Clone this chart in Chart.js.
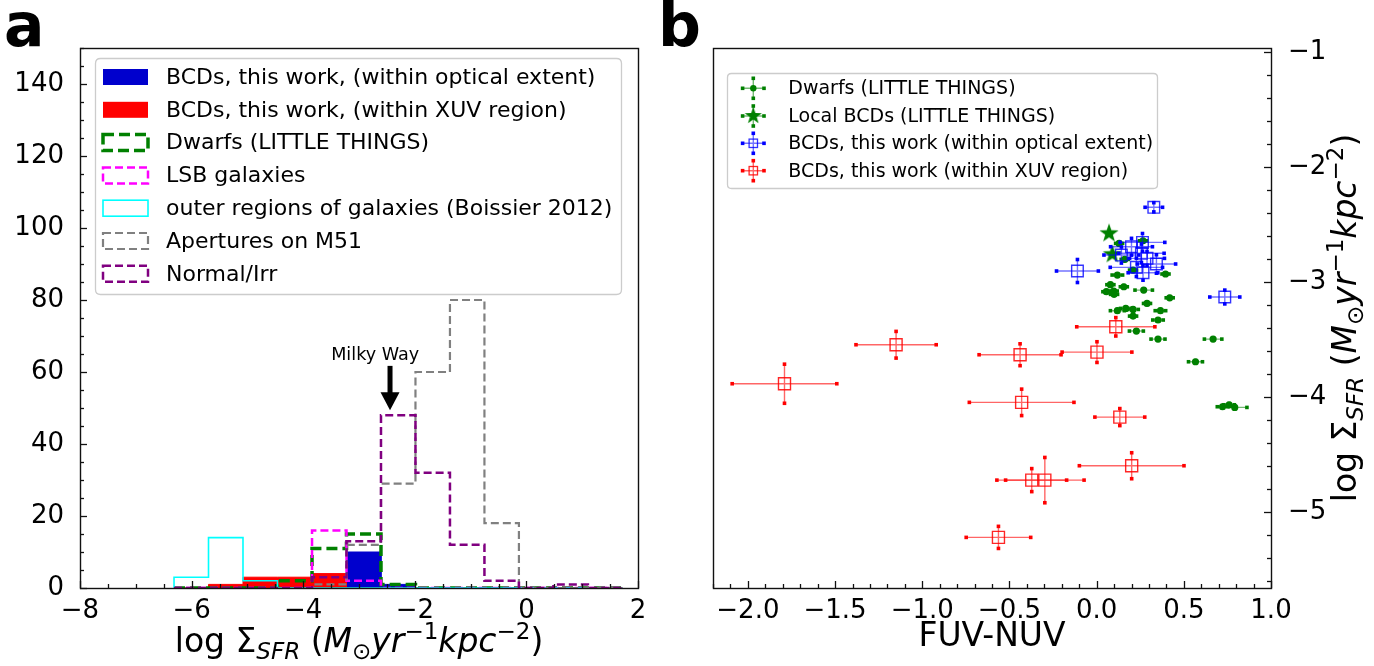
<!DOCTYPE html>
<html><head><meta charset="utf-8">
<script src="https://cdn.jsdelivr.net/npm/chart.js@4.4.1/dist/chart.umd.min.js"></script>
<style>
html,body{margin:0;padding:0;background:#fff;}
#wrap{position:relative;width:1374px;height:666px;overflow:hidden;background:#fff;}
.pane{position:absolute;top:0;height:666px;}
canvas{display:block;}
</style></head>
<body><div id="wrap">
<div class="pane" style="left:0;width:687px"><canvas id="ca" width="687" height="666"></canvas></div>
<div class="pane" style="left:640px;width:734px"><canvas id="cb" width="734" height="666"></canvas></div>
</div>
<script>
// ---------------- Panel a: histogram data ----------------
const BIN_EDGES = [-6.315, -5.697, -5.079, -4.461, -3.842, -3.224, -2.606, -1.988, -1.370, -0.752, -0.134, 0.484, 1.102, 1.720];
const HIST_BCD_OPTICAL = [0, 0, 0, 0, 0, 10, 1, 0, 0, 0, 0, 0, 0];
const HIST_BCD_XUV     = [0, 1, 3, 3, 4, 0, 0, 0, 0, 0, 0, 0, 0];
const HIST_DWARFS      = [0, 0, 0, 2, 11, 15, 1, 0, 0, 0, 0, 0, 0];
const HIST_LSB         = [0, 0, 0, 0, 16, 2, 0, 0, 0, 0, 0, 0, 0];
const HIST_OUTER       = [3, 14, 2, 0, 0, 0, 0, 0, 0, 0, 0, 0, 0];
const HIST_M51         = [0, 0, 0, 0, 1, 12, 29, 60, 80, 18, 0, 0, 0];
const HIST_NORMAL      = [0, 0, 0, 0, 3, 13, 48, 32, 12, 2, 0, 1, 0];
const A_X_TICKS = [-8, -6, -4, -2, 0, 2];
const A_Y_TICKS = [0, 20, 40, 60, 80, 100, 120, 140];
const A_LABELS = ['BCDs, this work, (within optical extent)', 'BCDs, this work, (within XUV region)',
  'Dwarfs (LITTLE THINGS)', 'LSB galaxies', 'outer regions of galaxies (Boissier 2012)', 'Apertures on M51', 'Normal/Irr'];
const MW_TEXT = 'Milky Way';
const MW_POS = {tx: -2.71, ty: 64.7, ax: -2.444, tail: 61.7, tip: 49.4};

// ---------------- Panel b: scatter data ----------------
const DWARF_COLOR = [0.129, 0.266, 0.161, 0.209, 0.395, 0.119, 0.079, 0.156, 0.056, 0.098, 0.100, 0.270, 0.419, 0.289, 0.119, 0.167, 0.209, 0.366, 0.209, 0.352, 0.228, 0.352, 0.668, 0.567, 0.722, 0.760, 0.792];
const DWARF_SFR   = [-2.664, -2.641, -2.803, -2.896, -2.930, -2.939, -3.023, -3.041, -3.084, -3.078, -3.107, -3.070, -3.137, -3.186, -3.249, -3.229, -3.238, -3.249, -3.296, -3.330, -3.426, -3.496, -3.496, -3.693, -4.084, -4.067, -4.090];
const DWARF_XERR  = [0.02, 0.02, 0.02, 0.02, 0.02, 0.03, 0.02, 0.02, 0.02, 0.02, 0.02, 0.05, 0.02, 0.02, 0.04, 0.03, 0.03, 0.03, 0.02, 0.03, 0.04, 0.04, 0.05, 0.04, 0.03, 0.03, 0.07];
const DWARF_YERR  = [0.01, 0.01, 0.01, 0.01, 0.01, 0.01, 0.01, 0.01, 0.01, 0.01, 0.01, 0.01, 0.01, 0.01, 0.01, 0.01, 0.01, 0.01, 0.01, 0.01, 0.01, 0.01, 0.01, 0.01, 0.01, 0.01, 0.01];
const LBCD_COLOR = [0.071, 0.090];
const LBCD_SFR   = [-2.577, -2.759];
const LBCD_XERR  = [0.0, 0.0];
const LBCD_YERR  = [0.0, 0.0];
const OPT_COLOR = [0.328, -0.110, 0.735, 0.200, 0.263, 0.142, 0.257, 0.343, 0.228, 0.266, 0.289];
const OPT_SFR   = [-2.350, -2.904, -3.130, -2.693, -2.655, -2.765, -2.750, -2.843, -2.872, -2.919, -2.794];
const OPT_XERR  = [0.050, 0.120, 0.086, 0.120, 0.128, 0.100, 0.130, 0.110, 0.150, 0.085, 0.100];
const OPT_YERR  = [0.040, 0.100, 0.060, 0.073, 0.077, 0.070, 0.080, 0.080, 0.080, 0.065, 0.060];
const XUV_COLOR = [-1.790, -1.150, -0.439, 0.002, 0.110, -0.430, 0.133, 0.201, -0.372, -0.297, -0.563];
const XUV_SFR   = [-3.884, -3.545, -3.632, -3.609, -3.389, -4.046, -4.174, -4.597, -4.722, -4.722, -5.220];
const XUV_XERR  = [0.300, 0.230, 0.235, 0.200, 0.224, 0.300, 0.143, 0.300, 0.200, 0.225, 0.185];
const XUV_YERR  = [0.170, 0.116, 0.095, 0.090, 0.080, 0.115, 0.074, 0.113, 0.100, 0.197, 0.096];
const B_X_TICKS = [-2.0, -1.5, -1.0, -0.5, 0.0, 0.5, 1.0];
const B_Y_TICKS = [-1, -2, -3, -4, -5];
const B_LABELS = ['Dwarfs (LITTLE THINGS)', 'Local BCDs (LITTLE THINGS)', 'BCDs, this work (within optical extent)', 'BCDs, this work (within XUV region)'];
const B_XTITLE = 'FUV-NUV';
const SFR_TITLE = [
  {t: 'log \u03A3', s: 33, it: false, dy: 0},
  {t: 'SFR', s: 23, it: true, dy: 7},
  {t: ' (', s: 33, it: false, dy: 0},
  {t: 'M', s: 33, it: true, dy: 0},
  {t: '\u2299', s: 23, it: false, dy: 7},
  {t: 'yr', s: 33, it: true, dy: 0},
  {t: '\u22121', s: 23, it: false, dy: -13},
  {t: 'kpc', s: 33, it: true, dy: 0},
  {t: '\u22122', s: 23, it: false, dy: -13},
  {t: ')', s: 33, it: false, dy: 0}
];

// ---------------- helpers ----------------
const FAM = '"DejaVu Sans", sans-serif';
Chart.defaults.font.family = FAM;
Chart.defaults.color = '#000';
const minus = s => s.replace('-', '\u2212');
const fmtInt = v => minus(String(Math.round(v)));
const fmt1 = v => { if (Math.abs(v) < 1e-9) v = 0; return minus(v.toFixed(1)); };
const zip = (xs, ys) => xs.map((x, i) => ({x, y: ys[i]}));

function stepPoints(edges, counts) {
  const pts = [{x: edges[0], y: 0}];
  counts.forEach((c, i) => { pts.push({x: edges[i], y: c}); pts.push({x: edges[i + 1], y: c}); });
  pts.push({x: edges[edges.length - 1], y: 0});
  return pts;
}
function roundRect(ctx, x, y, w, h, r) {
  ctx.beginPath();
  ctx.moveTo(x + r, y); ctx.lineTo(x + w - r, y); ctx.quadraticCurveTo(x + w, y, x + w, y + r);
  ctx.lineTo(x + w, y + h - r); ctx.quadraticCurveTo(x + w, y + h, x + w - r, y + h);
  ctx.lineTo(x + r, y + h); ctx.quadraticCurveTo(x, y + h, x, y + h - r);
  ctx.lineTo(x, y + r); ctx.quadraticCurveTo(x, y, x + r, y); ctx.closePath();
}
function drawRich(ctx, segs, x, y, rotate) {
  ctx.save();
  ctx.translate(x, y);
  if (rotate) ctx.rotate(-Math.PI / 2);
  const f = s => (s.it ? 'italic ' : '') + s.s + 'px ' + FAM;
  let total = 0;
  segs.forEach(s => { ctx.font = f(s); total += ctx.measureText(s.t).width; });
  let cx = -total / 2;
  ctx.fillStyle = '#000'; ctx.textAlign = 'left'; ctx.textBaseline = 'alphabetic';
  segs.forEach(s => { ctx.font = f(s); ctx.fillText(s.t, cx, s.dy); cx += ctx.measureText(s.t).width; });
  ctx.restore();
}
function drawFrame(ctx, a) {
  ctx.save(); ctx.strokeStyle = '#111'; ctx.lineWidth = 1.4;
  ctx.strokeRect(Math.round(a.left) + 0.5, Math.round(a.top) + 0.5, Math.round(a.right - a.left), Math.round(a.bottom - a.top));
  ctx.restore();
}
function minorValues(min, max, step, majors) {
  const out = [];
  const start = Math.ceil(min / step - 1e-9);
  for (let k = start; k * step <= max + 1e-9; k++) {
    const v = k * step;
    if (!majors.some(m => Math.abs(m - v) < 1e-9)) out.push(v);
  }
  return out;
}
function drawTicksX(ctx, sc, a, majors, minorStep) {
  ctx.save(); ctx.strokeStyle = '#111'; ctx.lineWidth = 1.3;
  const draw = (v, len) => { const p = Math.round(sc.getPixelForValue(v)) + 0.5; ctx.beginPath(); ctx.moveTo(p, a.bottom); ctx.lineTo(p, a.bottom - len); ctx.stroke(); };
  majors.forEach(v => draw(v, 7));
  minorValues(sc.min, sc.max, minorStep, majors).forEach(v => draw(v, 4));
  ctx.restore();
}
function drawTicksY(ctx, sc, a, majors, minorStep, side) {
  ctx.save(); ctx.strokeStyle = '#111'; ctx.lineWidth = 1.3;
  const x0 = side === 'left' ? a.left : a.right, dir = side === 'left' ? 1 : -1;
  const draw = (v, len) => { const p = Math.round(sc.getPixelForValue(v)) + 0.5; ctx.beginPath(); ctx.moveTo(x0, p); ctx.lineTo(x0 + dir * len, p); ctx.stroke(); };
  majors.forEach(v => draw(v, 7));
  minorValues(sc.min, sc.max, minorStep, majors).forEach(v => draw(v, 4));
  ctx.restore();
}
function panelLabel(ctx, t, x) {
  ctx.save(); ctx.font = 'bold 60px ' + FAM; ctx.fillStyle = '#000'; ctx.textBaseline = 'alphabetic'; ctx.textAlign = 'left';
  ctx.fillText(t, x, 46); ctx.restore();
}
function makeStar(R, color) {
  const c = document.createElement('canvas'); const s = Math.ceil(2 * R + 2); c.width = c.height = s;
  const g = c.getContext('2d'); g.fillStyle = color; g.beginPath();
  for (let k = 0; k < 10; k++) {
    const r = k % 2 ? R * 0.4 : R; const ang = -Math.PI / 2 + k * Math.PI / 5;
    const px = s / 2 + r * Math.cos(ang), py = s / 2 + r * Math.sin(ang);
    if (k) g.lineTo(px, py); else g.moveTo(px, py);
  }
  g.closePath(); g.fill(); return c;
}
const STAR_BIG = makeStar(10, '#008000');
const STAR_LEG = makeStar(9, '#008000');

// ---------------- Panel a ----------------
const decorA = {
  id: 'decorA',
  afterDraw(chart) {
    const {ctx, chartArea: a} = chart; const X = chart.scales.x, Y = chart.scales.y;
    drawFrame(ctx, a);
    drawTicksX(ctx, X, a, A_X_TICKS, 0.5);
    drawTicksY(ctx, Y, a, A_Y_TICKS, 5, 'left');
    // Milky Way annotation
    ctx.save();
    ctx.font = '17.6px ' + FAM; ctx.fillStyle = '#000'; ctx.textAlign = 'center'; ctx.textBaseline = 'middle';
    ctx.fillText(MW_TEXT, X.getPixelForValue(MW_POS.tx), Y.getPixelForValue(MW_POS.ty));
    const ax = X.getPixelForValue(MW_POS.ax), t0 = Y.getPixelForValue(MW_POS.tail), t1 = Y.getPixelForValue(MW_POS.tip);
    const hb = t1 - 18;
    ctx.fillRect(ax - 2.5, t0, 5, hb - t0 + 1);
    ctx.beginPath(); ctx.moveTo(ax - 9.5, hb); ctx.lineTo(ax + 9.5, hb); ctx.lineTo(ax, t1); ctx.closePath(); ctx.fill();
    ctx.restore();
    // legend
    ctx.save();
    roundRect(ctx, 95.5, 58.5, 526, 236, 5);
    ctx.fillStyle = 'rgba(255,255,255,0.8)'; ctx.fill();
    ctx.strokeStyle = '#cccccc'; ctx.lineWidth = 1.3; ctx.stroke();
    chart.data.datasets.forEach((ds, i) => {
      const yy = 77 + 32.8 * i;
      if (ds.fill) { ctx.fillStyle = ds.backgroundColor; ctx.fillRect(103, yy - 8, 45, 16); }
      else {
        ctx.strokeStyle = ds.borderColor; ctx.lineWidth = ds.borderWidth; ctx.setLineDash(ds.borderDash || []);
        ctx.strokeRect(103, yy - 8, 45, 16); ctx.setLineDash([]);
      }
      ctx.fillStyle = '#000'; ctx.font = '22px ' + FAM; ctx.textBaseline = 'middle'; ctx.textAlign = 'left';
      ctx.fillText(ds.label, 166, yy + 1);
    });
    ctx.restore();
    drawRich(ctx, SFR_TITLE, (a.left + a.right) / 2, 652, false);
    panelLabel(ctx, 'a', 4);
  }
};

const histLine = (label, counts, color, width, dash, order) => ({
  label, data: stepPoints(BIN_EDGES, counts), borderColor: color, borderWidth: width, borderDash: dash,
  fill: false, order, pointRadius: 0
});
const histFill = (label, counts, color, order) => ({
  label, data: stepPoints(BIN_EDGES, counts), borderColor: color, backgroundColor: color, borderWidth: 1,
  fill: 'origin', order, pointRadius: 0
});

new Chart(document.getElementById('ca'), {
  type: 'line',
  data: {datasets: [
    histFill(A_LABELS[0], HIST_BCD_OPTICAL, '#0000cd', 7),
    histFill(A_LABELS[1], HIST_BCD_XUV, '#ff0000', 6),
    histLine(A_LABELS[2], HIST_DWARFS, '#008000', 3.5, [11, 5], 5),
    histLine(A_LABELS[3], HIST_LSB, '#ff00ff', 2.5, [8, 4], 4),
    histLine(A_LABELS[4], HIST_OUTER, '#00ffff', 1.6, [], 3),
    histLine(A_LABELS[5], HIST_M51, '#808080', 2.2, [8, 4], 2),
    histLine(A_LABELS[6], HIST_NORMAL, '#800080', 2.5, [8, 4], 1)
  ]},
  options: {
    responsive: false, animation: false,
    layout: {padding: {top: 48, right: 687 - 638, left: 0, bottom: 0}},
    plugins: {legend: {display: false}, tooltip: {enabled: false}},
    elements: {point: {radius: 0}, line: {tension: 0, borderCapStyle: 'butt', borderJoinStyle: 'miter'}},
    scales: {
      x: {type: 'linear', min: -8, max: 2,
        afterBuildTicks: s => { s.ticks = A_X_TICKS.map(v => ({value: v})); },
        afterFit: s => { s.height = 78; },
        grid: {display: false}, border: {display: false},
        ticks: {font: {size: 26, lineHeight: 1}, padding: 2, maxRotation: 0, autoSkip: false, callback: v => fmtInt(v)}},
      y: {type: 'linear', min: 0, max: 150,
        afterBuildTicks: s => { s.ticks = A_Y_TICKS.map(v => ({value: v})); },
        afterFit: s => { s.width = 80; },
        grid: {display: false}, border: {display: false},
        ticks: {font: {size: 26, lineHeight: 1}, padding: 8, autoSkip: false, callback: v => fmtInt(v)}}
    }
  },
  plugins: [decorA]
});

// ---------------- Panel b ----------------
const OFF_B = 640; // page x of canvas b
const errBars = {
  id: 'errBars',
  beforeDatasetDraw(chart, args) {
    const ds = chart.data.datasets[args.index];
    if (!ds.errX) return;
    const ctx = chart.ctx, X = chart.scales.x, Y = chart.scales.y;
    ctx.save();
    ctx.lineWidth = 1.4;
    ds.data.forEach((p, i) => {
      const px = X.getPixelForValue(p.x), py = Y.getPixelForValue(p.y);
      const x0 = X.getPixelForValue(p.x - ds.errX[i]), x1 = X.getPixelForValue(p.x + ds.errX[i]);
      const y0 = Y.getPixelForValue(p.y - ds.errY[i]), y1 = Y.getPixelForValue(p.y + ds.errY[i]);
      ctx.strokeStyle = ds.errLine;
      ctx.beginPath(); ctx.moveTo(x0, py); ctx.lineTo(x1, py); ctx.moveTo(px, y0); ctx.lineTo(px, y1); ctx.stroke();
      ctx.fillStyle = ds.errCap;
      [[x0, py], [x1, py], [px, y0], [px, y1]].forEach(([cx, cy]) => ctx.fillRect(cx - 1.8, cy - 1.8, 3.6, 3.6));
    });
    ctx.restore();
  }
};

const decorB = {
  id: 'decorB',
  afterDraw(chart) {
    const {ctx, chartArea: a} = chart; const X = chart.scales.x, Y = chart.scales.y;
    drawFrame(ctx, a);
    drawTicksX(ctx, X, a, B_X_TICKS, 0.1);
    drawTicksY(ctx, Y, a, B_Y_TICKS, 0.2, 'right');
    // legend
    ctx.save();
    const lx = 727.5 - OFF_B;
    roundRect(ctx, lx, 73.5, 430, 115, 4);
    ctx.fillStyle = 'rgba(255,255,255,0.8)'; ctx.fill();
    ctx.strokeStyle = '#cccccc'; ctx.lineWidth = 1.3; ctx.stroke();
    const rows = [88.3, 116, 143.3, 170.7];
    chart.data.datasets.forEach((ds, i) => {
      const yy = rows[i], hx = 753.3 - OFF_B;
      ctx.strokeStyle = ds.errLine; ctx.lineWidth = 1.4;
      ctx.beginPath(); ctx.moveTo(hx - 10.7, yy); ctx.lineTo(hx + 10.7, yy); ctx.moveTo(hx, yy - 10); ctx.lineTo(hx, yy + 10); ctx.stroke();
      ctx.fillStyle = ds.errCap;
      [[hx - 10.7, yy], [hx + 10.7, yy], [hx, yy - 10], [hx, yy + 10]].forEach(([cx, cy]) => ctx.fillRect(cx - 1.8, cy - 1.8, 3.6, 3.6));
      if (ds.legendMarker === 'dot') { ctx.fillStyle = ds.backgroundColor; ctx.beginPath(); ctx.arc(hx, yy, 3.2, 0, Math.PI * 2); ctx.fill(); }
      else if (ds.legendMarker === 'star') { ctx.drawImage(STAR_LEG, hx - STAR_LEG.width / 2, yy - STAR_LEG.height / 2); }
      else { ctx.strokeStyle = ds.borderColor; ctx.lineWidth = 1.3; ctx.strokeRect(hx - 4.2, yy - 4.2, 8.4, 8.4); }
      ctx.fillStyle = '#000'; ctx.font = '19px ' + FAM; ctx.textBaseline = 'middle'; ctx.textAlign = 'left';
      ctx.fillText(ds.label, 788.3 - OFF_B, yy + 1);
    });
    ctx.restore();
    // axis titles
    ctx.save(); ctx.font = '33px ' + FAM; ctx.fillStyle = '#000'; ctx.textAlign = 'center'; ctx.textBaseline = 'alphabetic';
    ctx.fillText(B_XTITLE, (a.left + a.right) / 2, 646); ctx.restore();
    drawRich(ctx, SFR_TITLE, 1356 - OFF_B, (a.top + a.bottom) / 2, true);
    panelLabel(ctx, 'b', 658 - OFF_B);
  }
};

new Chart(document.getElementById('cb'), {
  type: 'scatter',
  data: {datasets: [
    {label: B_LABELS[0], data: zip(DWARF_COLOR, DWARF_SFR), errX: DWARF_XERR, errY: DWARF_YERR,
      errLine: 'rgba(0,128,0,0.55)', errCap: '#008000', legendMarker: 'dot',
      pointStyle: 'circle', pointRadius: 3.6, backgroundColor: '#008000', borderColor: '#008000', borderWidth: 0, order: 4},
    {label: B_LABELS[1], data: zip(LBCD_COLOR, LBCD_SFR), errX: LBCD_XERR, errY: LBCD_YERR,
      errLine: 'rgba(0,128,0,0.55)', errCap: '#008000', legendMarker: 'star',
      pointStyle: STAR_BIG, pointRadius: 10, backgroundColor: '#008000', borderColor: '#008000', order: 3},
    {label: B_LABELS[2], data: zip(OPT_COLOR, OPT_SFR), errX: OPT_XERR, errY: OPT_YERR,
      errLine: 'rgba(0,0,255,0.55)', errCap: '#0000ff', legendMarker: 'square',
      pointStyle: 'rect', pointRadius: 8.2, backgroundColor: 'rgba(0,0,0,0)', borderColor: 'rgba(0,0,255,0.8)', borderWidth: 1.4, order: 2},
    {label: B_LABELS[3], data: zip(XUV_COLOR, XUV_SFR), errX: XUV_XERR, errY: XUV_YERR,
      errLine: 'rgba(255,0,0,0.6)', errCap: '#ff0000', legendMarker: 'square',
      pointStyle: 'rect', pointRadius: 8.5, backgroundColor: 'rgba(0,0,0,0)', borderColor: 'rgba(255,0,0,0.85)', borderWidth: 1.4, order: 1}
  ]},
  options: {
    responsive: false, animation: false,
    layout: {padding: {top: 48, right: 0, left: 713 - OFF_B, bottom: 0}},
    plugins: {legend: {display: false}, tooltip: {enabled: false}},
    scales: {
      x: {type: 'linear', min: -2.2, max: 1.0,
        afterBuildTicks: s => { s.ticks = B_X_TICKS.map(v => ({value: v})); },
        afterFit: s => { s.height = 78; },
        grid: {display: false}, border: {display: false},
        ticks: {font: {size: 26, lineHeight: 1}, padding: 2, maxRotation: 0, autoSkip: false, callback: v => fmt1(v)}},
      y: {type: 'linear', position: 'right', min: -5.66, max: -0.965,
        afterBuildTicks: s => { s.ticks = B_Y_TICKS.map(v => ({value: v})); },
        afterFit: s => { s.width = 1374 - 1271; },
        grid: {display: false}, border: {display: false},
        ticks: {font: {size: 26, lineHeight: 1}, padding: 9, autoSkip: false, callback: v => fmtInt(v)}}
    }
  },
  plugins: [errBars, decorB]
});
</script>
</body></html>
